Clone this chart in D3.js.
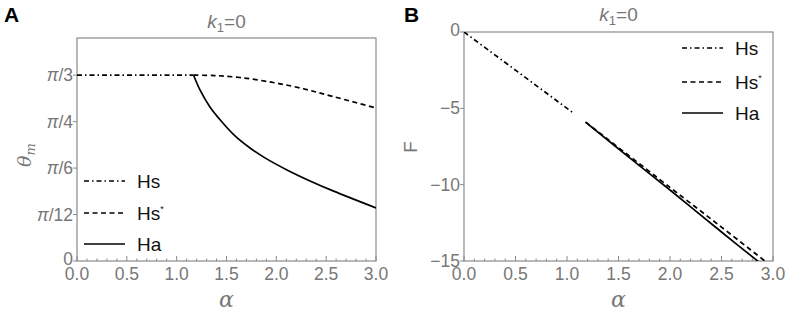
<!DOCTYPE html>
<html>
<head>
<meta charset="utf-8">
<script src="https://cdn.jsdelivr.net/npm/d3@7"></script>
<style>
  body { margin: 0; background: #fff; }
  svg { font-family: "Liberation Sans", Arial, sans-serif; }
</style>
</head>
<body>
<svg id="chart" width="796" height="314"></svg>
<script>
const PI = Math.PI;

// x axis (alpha)
const alphaTicks = [0, 0.5, 1, 1.5, 2, 2.5, 3];
const alphaTickLabels = ["0.0", "0.5", "1.0", "1.5", "2.0", "2.5", "3.0"];

// panel A, theta_m
const thetaTicks = [0, PI / 12, PI / 6, PI / 4, PI / 3];
const thetaTickLabels = ["0", "π/12", "π/6", "π/4", "π/3"];
const hsA = [[0, PI / 3], [1.17, PI / 3]];
const hsStarA = [[1.17, 1.047], [1.385, 1.045], [1.635, 1.034], [1.936, 1.009], [2.237, 0.975], [2.568, 0.927], [3.0, 0.862]];
const haA = [[1.17, 1.047], [1.234, 0.964], [1.334, 0.868], [1.455, 0.783], [1.585, 0.705], [1.736, 0.637], [1.886, 0.581], [2.107, 0.513], [2.338, 0.451], [2.569, 0.395], [3.0, 0.299]];

// panel B, F
const fTicks = [0, -5, -10, -15];
const fTickLabels = ["0", "−5", "−10", "−15"];
const hsB = [[0, 0], [1.05, -5.25]];
const hsStarB = [[1.18, -5.9], [2.0, -10.18], [2.5, -12.78], [2.95, -15.15]];
const haB = [[1.18, -5.9], [1.6, -8.2], [2.0, -10.35], [2.5, -13.1], [2.86, -15.05]];

const legendNames = ["Hs", "Hs*", "Ha"];
const dashes = ["5,3,1.5,3", "5,3.5", null];

const svg = d3.select("#chart");
const grey = "#777";
const frameColor = "#8a8a8a";

function drawPanel(o) {
    const x = d3.scaleLinear().domain([0, 3]).range([o.left, o.right]);
    const y = d3.scaleLinear().domain(o.yDomain).range([o.bottom, o.top]);
    const g = svg.append("g");

    const clipId = "clip" + o.letter;
    g.append("clipPath").attr("id", clipId)
        .append("rect")
        .attr("x", o.left).attr("y", o.top)
        .attr("width", o.right - o.left).attr("height", o.bottom - o.top);

    // frame
    g.append("rect")
        .attr("x", o.left).attr("y", o.top)
        .attr("width", o.right - o.left).attr("height", o.bottom - o.top)
        .style("fill", "none").style("stroke", frameColor).style("stroke-width", 1.2);

    // x ticks (inside, major + minor)
    d3.range(0, 31).forEach(i => {
        const v = i / 10;
        const major = i % 5 === 0;
        g.append("line")
            .attr("x1", x(v)).attr("x2", x(v))
            .attr("y1", o.bottom).attr("y2", o.bottom - (major ? 5 : 2.5))
            .style("stroke", frameColor).style("stroke-width", 1);
    });
    alphaTicks.forEach((v, i) => {
        g.append("text")
            .attr("x", x(v)).attr("y", o.bottom + 19)
            .attr("text-anchor", "middle")
            .style("font-size", "17.5px").style("fill", grey)
            .text(alphaTickLabels[i]);
    });

    // y ticks (outside)
    o.yTicks.forEach((v, i) => {
        g.append("line")
            .attr("x1", o.left - 4).attr("x2", o.left)
            .attr("y1", y(v)).attr("y2", y(v))
            .style("stroke", frameColor).style("stroke-width", 1);
        const t = g.append("text")
            .attr("x", o.left - 4).attr("y", y(v) + (i === 0 ? 4 : 6))
            .attr("text-anchor", "end")
            .style("font-size", "17.5px").style("fill", grey);
        const lab = o.yTickLabels[i];
        if (lab.startsWith("π")) {
            t.append("tspan").style("font-style", "italic").text("π");
            t.append("tspan").text(lab.slice(1));
        } else {
            t.text(lab);
        }
    });

    // lines
    const line = d3.line().x(d => x(d[0])).y(d => y(d[1])).curve(d3.curveCatmullRom.alpha(0.5));
    const plotG = g.append("g").attr("clip-path", `url(#${clipId})`);
    o.series.forEach((s, i) => {
        plotG.append("path")
            .datum(s)
            .attr("d", line)
            .style("fill", "none")
            .style("stroke", "#000")
            .style("stroke-width", 1.7)
            .style("stroke-dasharray", dashes[i]);
    });

    // legend
    legendNames.forEach((name, i) => {
        const ly = o.legendY[i];
        g.append("line")
            .attr("x1", o.legendX).attr("x2", o.legendX + 41)
            .attr("y1", ly).attr("y2", ly)
            .style("stroke", "#000").style("stroke-width", 1.7)
            .style("stroke-dasharray", dashes[i]);
        const t = g.append("text")
            .attr("x", o.legendX + 53).attr("y", ly + 7)
            .style("font-size", "19px").style("fill", "#111");
        if (name === "Hs*") {
            t.text("Hs");
            t.append("tspan").attr("dy", -8).style("font-size", "9px").text("*");
        } else {
            t.text(name);
        }
    });

    // title
    const title = g.append("text")
        .attr("x", (o.left + o.right) / 2).attr("y", o.titleY)
        .attr("text-anchor", "middle")
        .style("font-size", "19px").style("fill", grey);
    title.append("tspan").style("font-style", "italic").text("k");
    title.append("tspan").attr("dy", 4).style("font-size", "13px").text("1");
    title.append("tspan").attr("dy", -4).text("=0");

    // axis labels
    g.append("text")
        .attr("x", (o.left + o.right) / 2).attr("y", 307)
        .attr("text-anchor", "middle")
        .style("font-size", "22px").style("font-style", "italic")
        .style("font-family", "'DejaVu Serif', serif")
        .style("fill", grey)
        .text("α");

    const yl = g.append("text")
        .attr("transform", `translate(${o.yLabelX},${o.yLabelY}) rotate(-90)`)
        .attr("text-anchor", "middle")
        .style("font-size", "19px").style("fill", grey);
    if (o.letter === "A") {
        yl.style("font-family", "'DejaVu Serif', serif");
        yl.append("tspan").style("font-style", "italic").text("θ");
        yl.append("tspan").attr("dy", 4).style("font-size", "13px").style("font-style", "italic").text("m");
    } else {
        yl.text("F");
    }

    // panel letter
    svg.append("text")
        .attr("x", o.letterX).attr("y", 22)
        .style("font-size", "21px").style("font-weight", "bold").style("fill", "#000")
        .text(o.letter);
}

drawPanel({
    letter: "A", letterX: 4,
    left: 77, right: 376, top: 38, bottom: 261,
    yDomain: [0, 0.4 * PI],
    yTicks: thetaTicks, yTickLabels: thetaTickLabels,
    series: [hsA, hsStarA, haA],
    legendX: 84, legendY: [181, 213, 244],
    titleY: 28, yLabelX: 31, yLabelY: 155
});

drawPanel({
    letter: "B", letterX: 404,
    left: 464, right: 773, top: 32, bottom: 261,
    yDomain: [-15, 0],
    yTicks: fTicks, yTickLabels: fTickLabels,
    series: [hsB, hsStarB, haB],
    legendX: 682, legendY: [48, 82, 113],
    titleY: 21, yLabelX: 417, yLabelY: 147
});
</script>
</body>
</html>
